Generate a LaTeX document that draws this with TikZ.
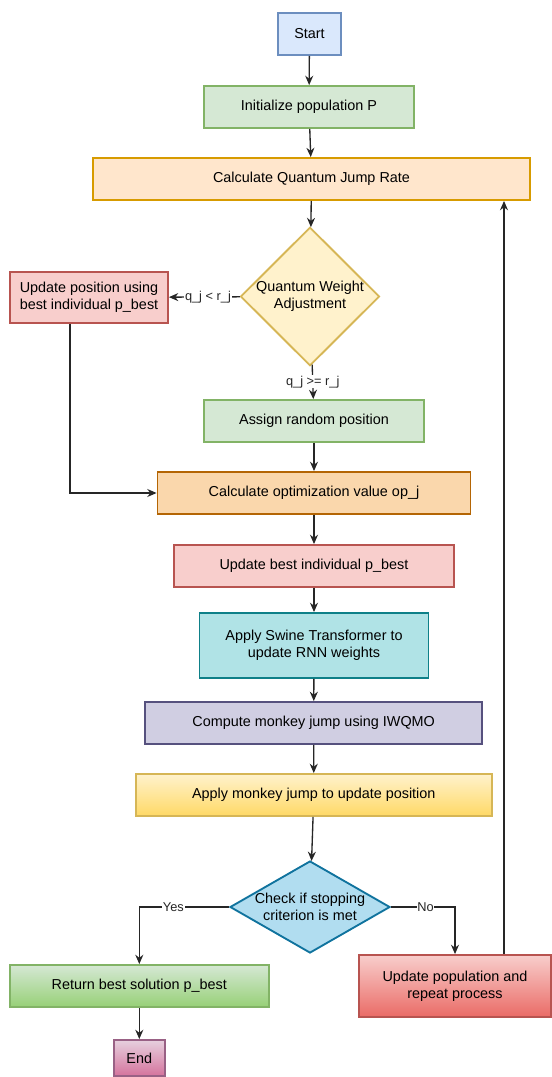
\documentclass[tikz,border=0pt]{standalone}
\usepackage{fontspec}
\setmainfont{Liberation Sans}
\usetikzlibrary{shapes.geometric,arrows.meta,positioning,calc}
\definecolor{startfill}{HTML}{DAE8FC}
\definecolor{startline}{HTML}{6C8EBF}
\definecolor{greenfill}{HTML}{D5E8D4}
\definecolor{greenline}{HTML}{82B366}
\definecolor{greendark}{HTML}{97D077}
\definecolor{orangefill}{HTML}{FFE6CC}
\definecolor{orangeline}{HTML}{D79B00}
\definecolor{optfill}{HTML}{FAD7AC}
\definecolor{optline}{HTML}{B46504}
\definecolor{yellowfill}{HTML}{FFF2CC}
\definecolor{yellowline}{HTML}{D6B656}
\definecolor{yellowdark}{HTML}{FFD966}
\definecolor{redfill}{HTML}{F8CECC}
\definecolor{redline}{HTML}{B85450}
\definecolor{reddark}{HTML}{EA6B66}
\definecolor{tealfill}{HTML}{B0E3E6}
\definecolor{tealline}{HTML}{0E8088}
\definecolor{purplefill}{HTML}{D0CEE2}
\definecolor{purpleline}{HTML}{56517E}
\definecolor{bluefill}{HTML}{B1DDF0}
\definecolor{blueline}{HTML}{10739E}
\definecolor{pinkfill}{HTML}{E6D0DE}
\definecolor{pinkdark}{HTML}{D5739D}
\definecolor{pinkline}{HTML}{996185}

\begin{document}
\begin{tikzpicture}[
 x=0.75pt, y=-0.75pt,
 process/.style={rectangle, draw, line width=1.4pt, minimum height=31.5pt, align=center, font=\fontsize{10.8}{13}\selectfont, inner sep=2pt},
 decision/.style={diamond, draw, line width=1.4pt, inner sep=0pt, align=center, font=\fontsize{10.8}{13}\selectfont},
 arrow/.style={-{Stealth[length=7pt,width=6pt]}, line width=1pt, color=black!85},
 label/.style={font=\fontsize{9.6}{11}\selectfont, fill=white, inner sep=0.5pt}
]
\useasboundingbox (0,0) rectangle (552,1077);

% Main column
\node[process, fill=startfill, draw=startline, minimum width=47.25pt] (start) at (309.5,34) {Start};
\node[process, fill=greenfill, draw=greenline, minimum width=157.5pt] (init) at (309,107) {Initialize population P};
\node[process, fill=orangefill, draw=orangeline, minimum width=327.75pt] (qjr) at (311.5,179) {Calculate Quantum Jump Rate};
\node[decision, fill=yellowfill, draw=yellowline, minimum width=104.25pt, minimum height=99.75pt] (qwa) at (310,296.5) {Quantum Weight\\Adjustment};

% Branches of the weight adjustment
\node[process, fill=redfill, draw=redline, minimum width=118.5pt, minimum height=38.25pt] (updpos) at (89,297.5) {Update position using\\best individual p\_best};
\node[process, fill=greenfill, draw=greenline, minimum width=165pt] (assign) at (314,421) {Assign random position};

% Lower column
\node[process, fill=optfill, draw=optline, minimum width=234.75pt] (calcop) at (314,493) {Calculate optimization value op\_j};
\node[process, fill=redfill, draw=redline, minimum width=209.6pt] (updbest) at (314,566) {Update best individual p\_best};
\node[process, fill=tealfill, draw=tealline, minimum width=171.75pt, minimum height=48.75pt] (swine) at (314,645.5) {Apply Swine Transformer to\\update RNN weights};
\node[process, fill=purplefill, draw=purpleline, minimum width=252.75pt] (monkey) at (313.7,723) {Compute monkey jump using IWQMO};
\node[process, top color=yellowfill, bottom color=yellowdark, draw=yellowline, minimum width=267pt] (applyjump) at (313.8,795) {Apply monkey jump to update position};
\node[decision, fill=bluefill, draw=blueline, minimum width=120pt, minimum height=69pt, aspect=1.74] (check) at (310,907) {Check if stopping\\criterion is met};

% Outcomes
\node[process, top color=greenfill, bottom color=greendark, draw=greenline, minimum width=194.25pt] (retbest) at (139.3,986) {Return best solution p\_best};
\node[process, top color=pinkfill, bottom color=pinkdark, draw=pinkline, minimum width=38.25pt, minimum height=27pt] (endnode) at (139.3,1058) {End};
\node[process, top color=redfill, bottom color=reddark, draw=redline, minimum width=144pt, minimum height=46.5pt] (updpop) at (455,986) {Update population and\\repeat process};

\coordinate (loopx) at (504,0);
\coordinate (leftx) at (70,0);

% Arrows - main column
\draw[arrow] (start) -- (init);
\draw[arrow] (init) -- (qjr);
\draw[arrow] (qjr) -- (qwa);
\draw[arrow] (qwa) -- node[pos=0.45, label] {q\_j < r\_j} (updpos);
\draw[arrow] (qwa) -- node[label] {q\_j >= r\_j} (assign);
\draw[arrow] (assign) -- (calcop);
\draw[arrow] (updpos.south -| leftx) |- (calcop.west);
\draw[arrow] (calcop) -- (updbest);
\draw[arrow] (updbest) -- (swine);
\draw[arrow] (swine) -- (monkey);
\draw[arrow] (monkey) -- (applyjump);
\draw[arrow] (applyjump) -- (check);

% Arrows - stopping check
\draw[arrow] (check.west) -| node[pos=0.31, label] {Yes} (retbest);
\draw[arrow] (check.east) -| node[pos=0.27, label] {No} (updpop);
\draw[arrow] (retbest) -- (endnode);
\draw[arrow] (updpop.north -| loopx) -- (qjr.south -| loopx);

\end{tikzpicture}
\end{document}
